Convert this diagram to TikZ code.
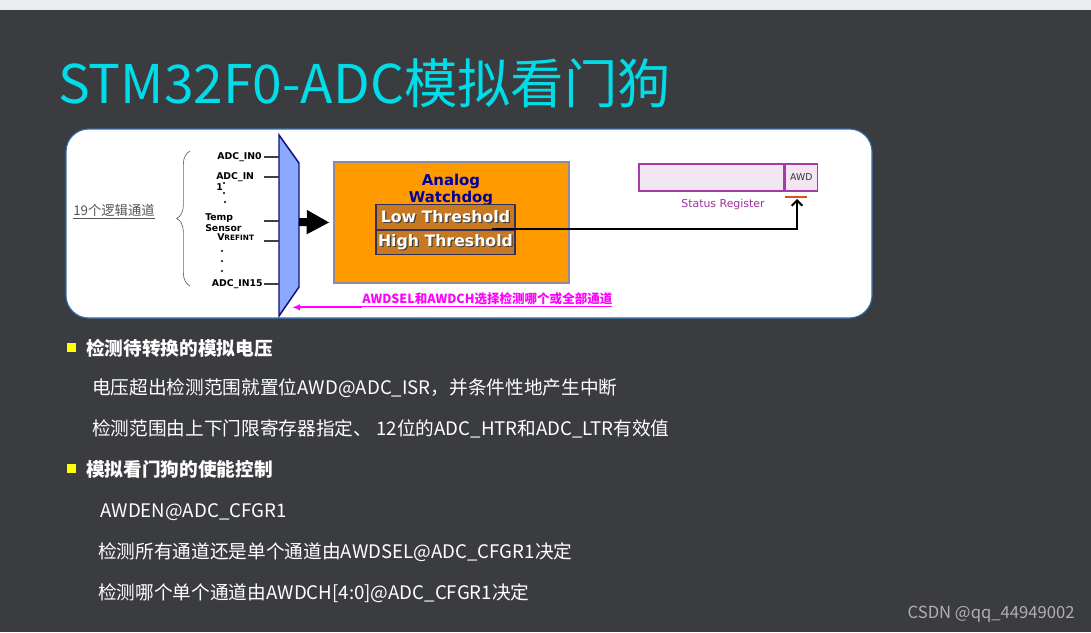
\documentclass[tikz,border=0pt]{standalone}
\usepackage{fontspec}
\setmainfont{Noto Sans CJK SC}
\newfontfamily\verd{DejaVu Sans}
\usepackage{tikz}
\usetikzlibrary{arrows.meta,positioning,calc,decorations.pathreplacing}
\usepackage{xcolor}
\definecolor{SlideBg}{HTML}{3B3C40}
\definecolor{TopStrip}{HTML}{E9ECF1}
\definecolor{TitleCyan}{HTML}{00DCE8}
\definecolor{PanelBlue}{HTML}{2F6FB0}
\definecolor{MuxBlue}{HTML}{8CA8FF}
\definecolor{MuxNavy}{HTML}{10107A}
\definecolor{AwdOrange}{HTML}{FF9900}
\definecolor{AwdBorder}{HTML}{8A8AA0}
\definecolor{AwdTitle}{HTML}{000099}
\definecolor{ThrFill}{HTML}{C87820}
\definecolor{ThrBorder}{HTML}{30305A}
\definecolor{RegFill}{HTML}{F3E6F3}
\definecolor{RegPurple}{HTML}{A83AA8}
\definecolor{RegText}{HTML}{A030A0}
\definecolor{FlagRed}{HTML}{E0501E}
\definecolor{SelPink}{HTML}{FF00FF}
\definecolor{LabelGray}{HTML}{555555}
\definecolor{BulletYellow}{HTML}{FFFF00}
\definecolor{WaterGray}{HTML}{B0B0B0}
\newcommand{\shtext}[1]{\makebox[0pt][l]{\hspace{0.9pt}\raisebox{-0.9pt}{\color{black!75}#1}}#1}

\begin{document}
\begin{tikzpicture}[x=0.75pt, y=-0.75pt,
    body/.style={anchor=base west, inner sep=0pt, text=white, font=\fontsize{14}{16}\selectfont},
    head/.style={body, font=\fontsize{14}{16}\selectfont\bfseries},
    bullet/.style={fill=BulletYellow, minimum size=6.75pt, inner sep=0pt},
    chan/.style={font=\verd\bfseries\fontsize{7}{8.25}\selectfont, inner sep=0pt, align=left},
    wire/.style={draw=black!75, line width=0.8pt},
    thr/.style={draw=ThrBorder, fill=ThrFill, line width=0.8pt, minimum width=104.25pt, minimum height=18.4pt, inner sep=0pt, font=\verd\bfseries\fontsize{11.8}{12}\selectfont, text=white},
    reg/.style={draw=RegPurple, fill=RegFill, line width=1pt, inner sep=0pt, minimum height=20.25pt}
  ]
    \useasboundingbox (0,0) rectangle (1091,632);
    \fill[SlideBg] (0,0) rectangle (1091,632);
    \fill[TopStrip] (0,0) rectangle (1091,10);

    \node[anchor=base west, inner sep=0pt, text=TitleCyan, font=\fontsize{40}{42}\selectfont] (title) at (58,103) {STM32F0-ADC模拟看门狗};

    % diagram panel
    \draw[PanelBlue, fill=white, line width=0.8pt, rounded corners=17pt] (66,129) rectangle (872,318);

    \draw[draw=MuxNavy, fill=MuxBlue, line width=1.1pt] (279,135) coordinate (mtl) -- (299,163) coordinate (mtr) -- (299,287) coordinate (mbr) -- (279,316) coordinate (mbl) -- cycle;

    \foreach \y/\nm in {157/in0, 177/in1, 221/temp, 241/vref, 284/in15} {
      \coordinate (\nm a) at (264,\y);
      \coordinate (\nm b) at (279,\y);
      \draw[wire] (\nm a) -- (\nm b);
    }
    \node[chan, anchor=east] (lin0) at (262,157) {ADC\_IN0};
    \node[chan, anchor=north west] (lin1) at (216,172) {ADC\_IN\\1};
    \node[chan, anchor=north west] (ltemp) at (205,213) {Temp\\Sensor};
    \node[chan, anchor=west] (lvref) at (217,237) {V{\fontsize{5.5}{6}\selectfont REFINT}};
    \node[chan, anchor=east] (lin15) at (263,284) {ADC\_IN15};
    \foreach \p in {(224,183),(224,193),(225,202),(222,251),(222,261),(222,271)}
      \fill \p circle (0.9pt);

    \coordinate (brtop) at (190,151);
    \coordinate (brbot) at (190,286);
    \draw[black!60, line width=0.5pt, decorate, decoration={brace, amplitude=10pt}] (brbot) -- (brtop);
    \node[font=\fontsize{10}{12}\selectfont, text=LabelGray] (chcount) at (114,212) {\underline{19个逻辑通道}};

    % watchdog block
    \node[draw=AwdBorder, fill=AwdOrange, line width=0.8pt, minimum width=176.25pt, minimum height=90.75pt, inner sep=0pt] (awd) at (451.5,222.5) {};
    \node[font=\verd\bfseries\fontsize{11.2}{12.75}\selectfont, text=AwdTitle, align=center, inner sep=0pt] (awdtitle) at (451,190) {Analog\\Watchdog};
    \node[thr] (low) at (445.5,217) {\shtext{Low Threshold}};
    \node[thr, below=0pt of low] (high) {\shtext{High Threshold}};

    \coordinate (muxout) at (299,222);
    \draw[line width=6pt, -{Triangle[length=17pt,width=17pt]}] (muxout) -- ($(awd.west)+(-4,0)$);

    % status register
    \node[reg, minimum width=108.75pt] (stat) at (711.5,177.5) {};
    \node[reg, minimum width=24pt, right=0pt of stat, font=\verd\fontsize{7}{8}\selectfont, text=black!80] (awdbit) {AWD};
    \node[font=\verd\fontsize{8.2}{9}\selectfont, text=RegText] (statlbl) at (723,204) {Status Register};
    \coordinate (flagl) at (785,197);
    \coordinate (flagr) at (807,197);
    \draw[FlagRed, line width=1.5pt] (flagl) -- (flagr);

    \coordinate (lowtap) at (492,229);
    \coordinate (flagtip) at (797,199);
    \draw[line width=1.5pt, -{Straight Barb[length=4pt,width=8pt]}] (lowtap) -| (flagtip);

    % channel select note
    \node[font=\fontsize{9.4}{10}\selectfont\bfseries, text=SelPink, anchor=base west, inner sep=0pt] (selnote) at (362,303) {\underline{AWDSEL和AWDCH选择检测哪个或全部通道}};
    \coordinate (muxsel) at (292,305);
    \draw[SelPink, line width=1.5pt, -{Latex[length=6pt,width=5pt]}] (selnote.south west) -- (muxsel |- selnote.south west);

    % bullet text
    \node[bullet] (b1) at (71.5,347.5) {};
    \node[head] (h1) at (86,355) {检测待转换的模拟电压};
    \node[body] (t1) at (92,394) {电压超出检测范围就置位AWD@ADC\_ISR，并条件性地产生中断};
    \node[body] (t2) at (92,435) {检测范围由上下门限寄存器指定、 12位的ADC\_HTR和ADC\_LTR有效值};
    \node[bullet] (b2) at (71.5,468.5) {};
    \node[head] (h2) at (86,476) {模拟看门狗的使能控制};
    \node[body] (t3) at (100,517) {AWDEN@ADC\_CFGR1};
    \node[body] (t4) at (98,558) {检测所有通道还是单个通道由AWDSEL@ADC\_CFGR1决定};
    \node[body] (t5) at (98,599) {检测哪个单个通道由AWDCH[4:0]@ADC\_CFGR1决定};

    \node[anchor=base east, inner sep=0pt, font=\fontsize{12.5}{14}\selectfont, text=WaterGray] (mark) at (1075,618) {CSDN @qq\_44949002};
  \end{tikzpicture}
\end{document}
